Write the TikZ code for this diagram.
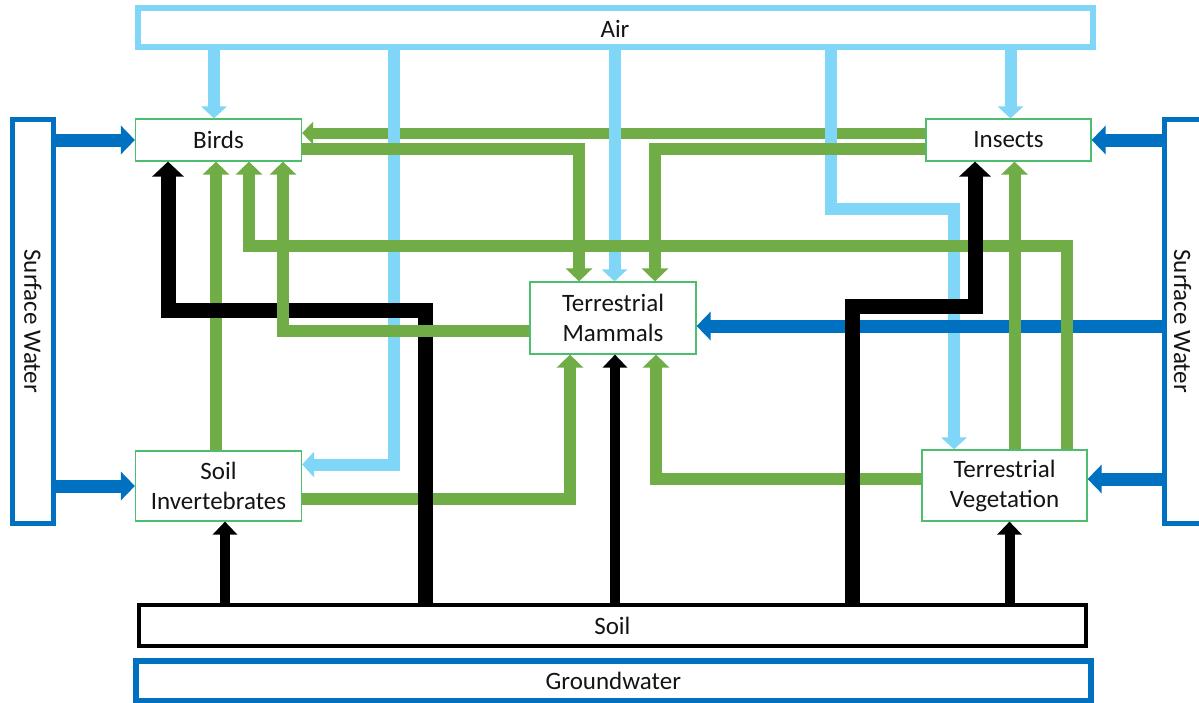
\documentclass[tikz,border=0pt]{standalone}
\usepackage{fontspec}
\setmainfont{Carlito}
\usetikzlibrary{arrows.meta}
\definecolor{lblue}{RGB}{127,214,247}
\definecolor{dblue}{RGB}{0,112,192}
\definecolor{grn}{RGB}{112,173,71}
\definecolor{boxgreen}{RGB}{76,190,110}
\definecolor{txt}{RGB}{20,20,20}
\begin{document}
\begin{tikzpicture}[x=1pt,y=-1pt,line join=miter,
  lbl/.style={font=\fontsize{25}{30}\selectfont,text=txt,align=center,inner sep=0pt},
  box/.style={lbl,draw=boxgreen,line width=1.2pt,fill=white},
  lb/.style={draw=lblue,line width=12pt,-{Triangle[width=25pt,length=12pt]}},
  db/.style={draw=dblue,line width=13pt,-{Triangle[width=28pt,length=14pt]}},
  gr/.style={draw=grn,line width=12pt,-{Triangle[width=26pt,length=13pt]}},
  grs/.style={draw=grn,line width=11pt,-{Triangle[width=22pt,length=11pt]}},
  bkthick/.style={draw=black,line width=15pt,-{Triangle[width=31pt,length=15pt]}},
  bkthin/.style={draw=black,line width=10pt,-{Triangle[width=24pt,length=13pt]}}]
\fill[white] (0,0) rectangle (1199,702);
\useasboundingbox (0,0) rectangle (1199,702);
% environment boxes
\node[lbl,draw=lblue,line width=6pt,minimum width=955pt,minimum height=39pt] (air) at (615.5,27.5) {};
\node[lbl] (airt) at (615,29) {Air};
\node[lbl,draw=dblue,line width=5pt,minimum width=40.5pt,minimum height=403.5pt] (lsw) at (32.75,321.25) {};
\node[lbl,rotate=-90] (lswt) at (32.75,321.25) {Surface Water};
\node[lbl,draw=dblue,line width=5pt,minimum width=40.5pt,minimum height=403.5pt] (rsw) at (1184.75,321.25) {};
\node[lbl,rotate=-90] (rswt) at (1182.5,321.25) {Surface Water};
\node[lbl,draw=black,line width=4pt,minimum width=947.3pt,minimum height=41pt] (soil) at (612.35,625.8) {Soil};
\node[lbl,draw=dblue,line width=6pt,minimum width=955.3pt,minimum height=39.5pt] (gw) at (613.35,680.75) {Groundwater};
% biota boxes
\node[box,minimum width=166pt,minimum height=42pt] (birds) at (218.5,140) {Birds};
\node[box,minimum width=165pt,minimum height=42pt] (insects) at (1008.5,140) {Insects};
\node[box,minimum width=166pt,minimum height=72pt] (mam) at (613,318) {Terrestrial\\Mammals};
\node[box,minimum width=166pt,minimum height=70pt] (si) at (218.5,486) {Soil\\Invertebrates};
\node[box,minimum width=165pt,minimum height=71pt] (tv) at (1004.5,485.5) {Terrestrial\\Vegetation};
% bottom-most green
\draw[grs] ([yshift=7pt]insects.west) -- ([yshift=7pt]birds.east);
% air
\draw[lb] ([xshift=-401.5pt]air.south) -- ([xshift=-4.5pt]birds.north);
\draw[lb] ([xshift=-1pt]air.south) -- ([xshift=1.5pt]mam.north);
\draw[lb] ([xshift=395pt]air.south) -- ([xshift=2pt]insects.north);
\draw[lb] ([xshift=-221.5pt]air.south) |- ([yshift=21.5pt]si.east);
\draw[lb] ([xshift=215.5pt]air.south) -- ++(0,158.5) -| ([xshift=-50.5pt]tv.north);
% surface water
\draw[db] ([yshift=181.25pt]lsw.east) -- (birds.west);
\draw[db] ([yshift=-164.75pt]lsw.east) -- (si.west);
\draw[db] ([yshift=181.25pt]rsw.west) -- (insects.east);
\draw[db] ([yshift=-4.75pt]rsw.west) -- ([yshift=-8pt]mam.east);
\draw[db] ([yshift=-157.75pt]rsw.west) -- ([yshift=6.5pt]tv.east);
% green
\draw[gr] ([xshift=-2.5pt]si.north) -- ([xshift=-2.5pt]birds.south);
\draw[gr] ([xshift=62.5pt]tv.north) -- ++(0,-203.5) -| ([xshift=30.5pt]birds.south);
\draw[gr] ([xshift=10pt]tv.north) -- ([xshift=6pt]insects.south);
\draw[gr] ([yshift=-9pt]birds.east) -| ([xshift=-34pt]mam.north);
\draw[gr] ([yshift=-9pt]insects.west) -| ([xshift=42pt]mam.north);
\draw[gr] ([yshift=-12.5pt]si.east) -| ([xshift=-43pt]mam.south);
\draw[gr] ([yshift=7pt]tv.west) -| ([xshift=43pt]mam.south);
% soil
\draw[bkthick] ([xshift=-187.35pt]soil.north) -- ++(0,-293.3) -| ([xshift=-50.5pt]birds.south);
\draw[bkthick] ([xshift=239.65pt]soil.north) -- ++(0,-297.3) -| ([xshift=-33.5pt]insects.south);
\draw[bkthin] ([xshift=2.65pt]soil.north) -- ([xshift=2pt]mam.south);
\draw[bkthin] ([xshift=-387.35pt]soil.north) -- ([xshift=6.5pt]si.south);
\draw[bkthin] ([xshift=397.15pt]soil.north) -- ([xshift=5pt]tv.south);
% top-most green
\draw[gr] ([yshift=-13pt]mam.west) -| ([xshift=64.5pt]birds.south);
\end{tikzpicture}
\end{document}
